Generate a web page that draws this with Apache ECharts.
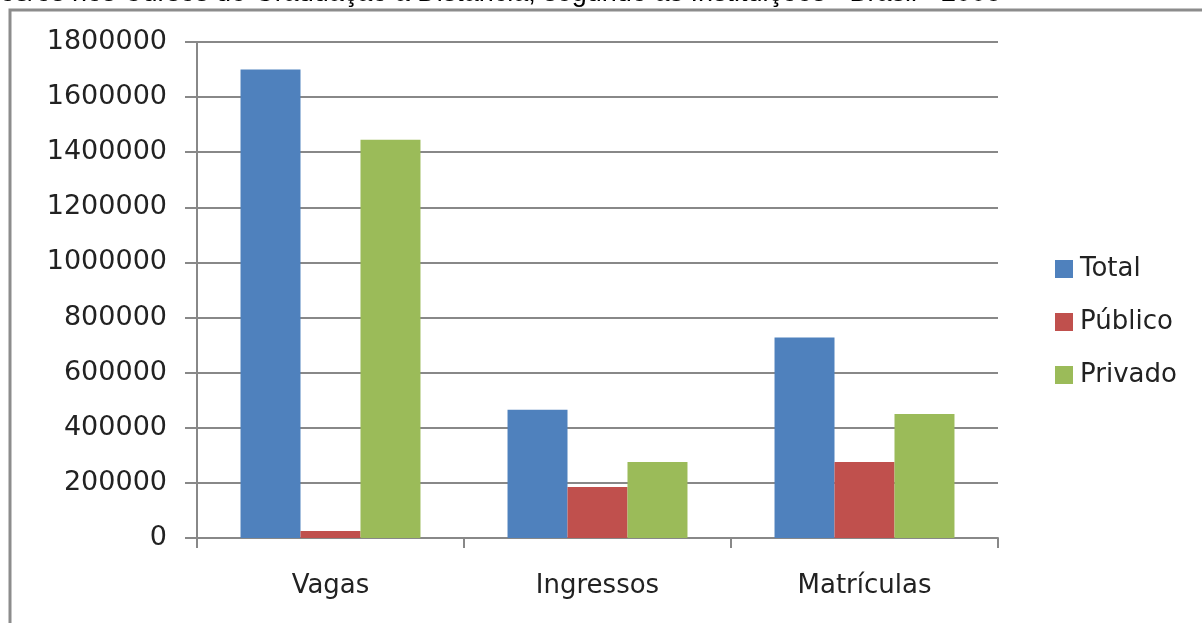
<!DOCTYPE html>
<html><head><meta charset="utf-8">
<script src="https://cdn.jsdelivr.net/npm/echarts@6/dist/echarts.min.js"></script>
<style>html,body{margin:0;padding:0;background:#fff}#c{width:1202px;height:623px}</style>
</head><body><div id="c"></div>
<script>
const categories = ['Vagas', 'Ingressos', 'Matrículas'];
const seriesNames = ['Total', 'Público', 'Privado'];
const totalValues = [1700000, 465000, 728000];
const publicoValues = [25000, 185000, 276000];
const privadoValues = [1445000, 276000, 450000];
const yTicks = [0, 200000, 400000, 600000, 800000, 1000000, 1200000, 1400000, 1600000, 1800000];
const titleText = 'os/os nos Cursos de Graduação a Distância, segundo as Instituições - Brasil - 2008';

const colors = ['#4F81BD', '#C0504D', '#9BBB59'];
const chart = echarts.init(document.getElementById('c'), null, {renderer: 'canvas'});
const font = 'DejaVu Sans';
chart.setOption({
  animation: false,
  backgroundColor: '#fff',
  grid: {left: 197, right: 204, top: 42, bottom: 85, containLabel: false},
  legend: {
    orient: 'vertical', left: 1050, top: 251, itemWidth: 18, itemHeight: 18, itemGap: 27,
    icon: 'rect', data: seriesNames,
    textStyle: {fontFamily: font, fontSize: 26, color: '#222', padding: [0, 0, 0, 2]}
  },
  xAxis: {
    type: 'category', data: categories,
    axisLine: {lineStyle: {color: '#888', width: 2}},
    axisTick: {show: true, length: 10, lineStyle: {color: '#888', width: 2}},
    axisLabel: {fontFamily: font, fontSize: 26, color: '#222', margin: 35}
  },
  yAxis: {
    type: 'value', min: yTicks[0], max: yTicks[yTicks.length - 1], interval: yTicks[1] - yTicks[0],
    axisLine: {show: true, lineStyle: {color: '#888', width: 2}},
    axisTick: {show: true, length: 12, lineStyle: {color: '#888', width: 2}},
    splitLine: {lineStyle: {color: '#888', width: 2}},
    axisLabel: {fontFamily: font, fontSize: 27, color: '#222', margin: 30, formatter: v => String(v)}
  },
  series: [
    {name: seriesNames[0], type: 'bar', data: totalValues, itemStyle: {color: colors[0]}, barGap: '0%', barCategoryGap: '32.6%'},
    {name: seriesNames[1], type: 'bar', data: publicoValues, itemStyle: {color: colors[1]}, barGap: '0%', barCategoryGap: '32.6%'},
    {name: seriesNames[2], type: 'bar', data: privadoValues, itemStyle: {color: colors[2]}, barGap: '0%', barCategoryGap: '32.6%'}
  ],
  graphic: [
    {type: 'rect', shape: {x: 10, y: 10, width: 1300, height: 700}, style: {fill: 'none', stroke: '#8c8c8c', lineWidth: 3}, silent: true},
    {type: 'text', left: 0, top: -20, style: {text: titleText, font: '27px "Liberation Sans"', fill: '#000'}, silent: true}
  ]
});
</script></body></html>
